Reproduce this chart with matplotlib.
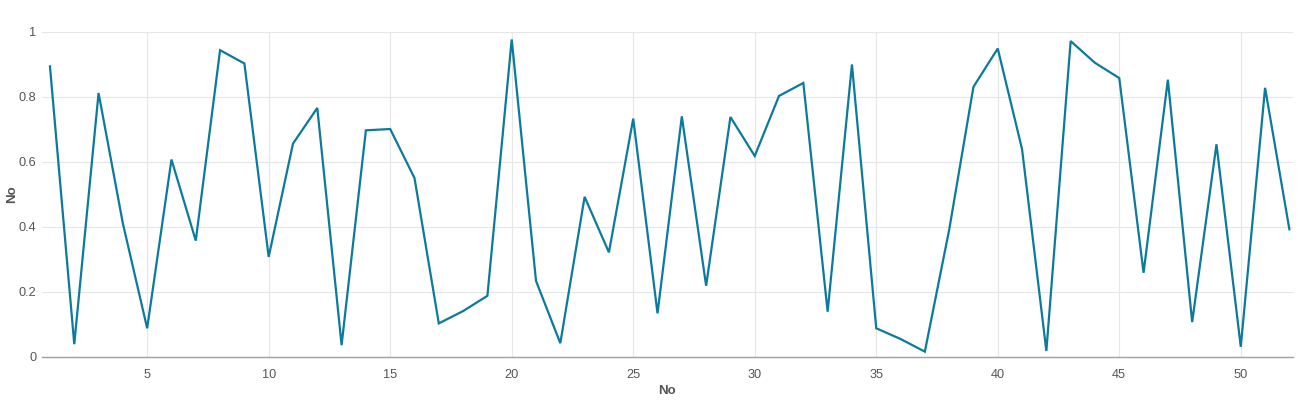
import matplotlib
matplotlib.use("Agg")
import matplotlib.pyplot as plt

x_values = list(range(1, 53))
y_values = [
    0.894, 0.038, 0.812, 0.410, 0.087, 0.607, 0.357, 0.944, 0.903, 0.307,
    0.656, 0.766, 0.035, 0.697, 0.701, 0.550, 0.102, 0.140, 0.187, 0.977,
    0.233, 0.041, 0.492, 0.321, 0.733, 0.133, 0.740, 0.218, 0.738, 0.618,
    0.803, 0.843, 0.138, 0.900, 0.087, 0.054, 0.015, 0.390, 0.831, 0.949,
    0.639, 0.017, 0.972, 0.905, 0.858, 0.258, 0.853, 0.106, 0.654, 0.030,
    0.828, 0.392,
]
x_ticks = [5, 10, 15, 20, 25, 30, 35, 40, 45, 50]
y_ticks = [0, 0.2, 0.4, 0.6, 0.8, 1]
y_tick_labels = ["0", "0.2", "0.4", "0.6", "0.8", "1"]

plt.rcParams['font.family'] = ['Liberation Sans', 'DejaVu Sans']

fig = plt.figure(figsize=(12.99, 4.0), dpi=100)
ax = fig.add_axes([0.0321, 0.10875, 0.9633, 0.81125])

ax.plot(x_values, y_values, color='#0b7a9b', linewidth=1.6, solid_joinstyle='miter', zorder=3)

ax.set_xlim(0.66, 52.15)
ax.set_ylim(0, 1)
ax.set_xticks(x_ticks)
ax.set_xticklabels([str(t) for t in x_ticks])
ax.set_yticks(y_ticks)
ax.set_yticklabels(y_tick_labels)

ax.grid(True, color='#e6e6e6', linewidth=0.8, zorder=0)
ax.set_axisbelow(True)
for s in ['top', 'right', 'left']:
    ax.spines[s].set_visible(False)
ax.spines['bottom'].set_color('#a0a0a0')
ax.spines['bottom'].set_linewidth(1.0)

ax.tick_params(axis='both', length=0, labelsize=9.2, labelcolor='#555555')
ax.tick_params(axis='x', pad=9)
ax.tick_params(axis='y', pad=4)

ax.set_xlabel('No', fontsize=9.5, fontweight='bold', color='#555555', labelpad=3)
ax.set_ylabel('No', fontsize=9.5, fontweight='bold', color='#555555', va='center')
ax.yaxis.set_label_coords(-(41.7 - 12.5) / 1251.0, 0.5)

fig.savefig('out.png', dpi=100)
